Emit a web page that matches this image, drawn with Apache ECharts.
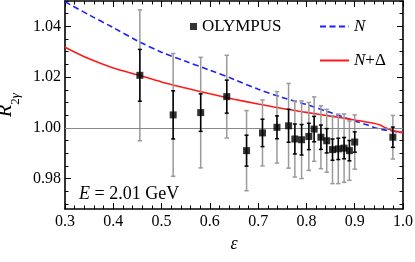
<!DOCTYPE html>
<html><head><meta charset="utf-8">
<script src="https://cdn.jsdelivr.net/npm/echarts@6/dist/echarts.min.js"></script>
<style>html,body{margin:0;padding:0;background:#fff}#c{width:415px;height:262px}</style>
</head><body><div id="c"></div>
<script>
// OLYMPUS data
const eps = [0.455,0.524,0.581,0.635,0.676,0.709,0.739,0.763,0.776,0.790,0.805,0.816,0.830,0.842,0.854,0.866,0.878,0.889,0.900,0.979];
const R2g = [1.0207,1.0051,1.0060,1.0123,0.9910,0.9980,1.0002,1.0008,0.9956,0.9953,0.9966,0.9995,0.9963,0.9949,0.9914,0.9917,0.9920,0.9910,0.9944,0.9963];
const statErr = [0.0102,0.0095,0.0074,0.0065,0.0061,0.0054,0.0045,0.0065,0.0059,0.0060,0.0052,0.0050,0.0048,0.0048,0.0042,0.0042,0.0042,0.0040,0.0040,0.0040];
const totErr = [0.0258,0.0242,0.0218,0.0163,0.0158,0.0130,0.0141,0.0167,0.0150,0.0153,0.0134,0.0127,0.0124,0.0124,0.0134,0.0137,0.0135,0.0117,0.0107,0.0086];
// theory curves
const curveEps = [0.30,0.35,0.40,0.45,0.50,0.55,0.60,0.65,0.70,0.75,0.80,0.85,0.90,0.925,0.95,0.965,0.98,1.00];
const curveN  = [1.0497,1.0445,1.0395,1.0343,1.0298,1.0262,1.0227,1.0191,1.0152,1.0120,1.0092,1.0060,1.0027,1.0012,0.9996,0.9991,0.9987,0.9981];
const curveND = [1.0318,1.0272,1.0236,1.0209,1.0181,1.0157,1.0134,1.0113,1.0094,1.0076,1.0061,1.0046,1.0031,1.0023,1.0013,0.9999,0.9988,0.9981];
// ticks
const xMajor = [0.3,0.4,0.5,0.6,0.7,0.8,0.9,1.0];
const xMinor = [0.32,0.34,0.36,0.38,0.42,0.44,0.46,0.48,0.52,0.54,0.56,0.58,0.62,0.64,0.66,0.68,0.72,0.74,0.76,0.78,0.82,0.84,0.86,0.88,0.92,0.94,0.96,0.98];
const yMajor = [0.98,1.00,1.02,1.04];
const yMinor = [0.97,0.975,0.985,0.99,0.995,1.005,1.01,1.015,1.025,1.03,1.035,1.045,1.05];
const xMin = 0.3, xMax = 1.0, yMin = 0.968, yMax = 1.05;

const FONT = 'Liberation Serif';
const chart = echarts.init(document.getElementById('c'), null, {renderer:'canvas'});

function xAx(pos, vals, len, line, labels){
  return {type:'value', min:xMin, max:xMax, position:pos,
    axisLine:{show:line, onZero:false, lineStyle:{color:'#000', width:1.6}},
    axisTick:{show:true, inside:true, length:len, customValues:vals, lineStyle:{color:'#000', width:1}},
    axisLabel:{show:labels, customValues:vals, margin:5, color:'#000', fontFamily:FONT, fontSize:16, formatter:v=>v.toFixed(1)},
    splitLine:{show:false}};
}
function yAx(pos, vals, len, line, labels){
  return {type:'value', min:yMin, max:yMax, position:pos,
    axisLine:{show:line, onZero:false, lineStyle:{color:'#000', width:1.6}},
    axisTick:{show:true, inside:true, length:len, customValues:vals, lineStyle:{color:'#000', width:1}},
    axisLabel:{show:labels, customValues:vals, margin:4, color:'#000', fontFamily:FONT, fontSize:16, formatter:v=>v.toFixed(2)},
    splitLine:{show:false}};
}
const xAxes = [xAx('bottom', xMajor, 6, true, true), xAx('bottom', xMinor, 3.5, false, false), xAx('top', xMajor, 6, true, false), xAx('top', xMinor, 3.5, false, false)];
Object.assign(xAxes[0], {name:'ε', nameLocation:'middle', nameGap:21, nameTextStyle:{fontFamily:FONT, fontStyle:'italic', fontSize:18, color:'#000'}});
const yAxes = [yAx('left', yMajor, 6, true, true), yAx('left', yMinor, 3.5, false, false), yAx('right', yMajor, 6, true, false), yAx('right', yMinor, 3.5, false, false)];
Object.assign(yAxes[0], {name:'{i|R}{s|2}{g|γ}', nameLocation:'middle', nameGap:40, nameRotate:90,
  nameTextStyle:{color:'#000', rich:{
    i:{fontFamily:FONT, fontStyle:'italic', fontSize:20, verticalAlign:'top', lineHeight:20},
    s:{fontFamily:FONT, fontSize:13, verticalAlign:'bottom', lineHeight:26},
    g:{fontFamily:FONT, fontStyle:'italic', fontSize:13, verticalAlign:'bottom', lineHeight:26}}}});

function errBars(errArr, color, capW, width, z){
  return {type:'custom', xAxisIndex:0, yAxisIndex:0, z:z, silent:true,
    data: eps.map((e,i)=>[e, R2g[i], errArr[i]]),
    renderItem:(params, api)=>{
      const x=api.value(0), y=api.value(1), e=api.value(2);
      const t=api.coord([x,y+e]), b=api.coord([x,y-e]);
      const st={stroke:color, lineWidth:width};
      return {type:'group', children:[
        {type:'line', shape:{x1:t[0],y1:t[1],x2:b[0],y2:b[1]}, style:st},
        {type:'line', shape:{x1:t[0]-capW,y1:t[1],x2:t[0]+capW,y2:t[1]}, style:st},
        {type:'line', shape:{x1:b[0]-capW,y1:b[1],x2:b[0]+capW,y2:b[1]}, style:st}]};
    }};
}

const legendText = {color:'#000', fontFamily:FONT, fontSize:17, rich:{
  i:{fontFamily:FONT, fontStyle:'italic', fontSize:17, color:'#000'},
  n:{fontFamily:FONT, fontSize:17, color:'#000'}}};
const legFmt = name => name==='N' ? '{i|N}' : (name==='N+Δ' ? '{i|N}{n|+Δ}' : name);

const option = {
  animation:false,
  backgroundColor:'#fff',
  grid:{left:65, right:12, top:1, bottom:53, containLabel:false, outerBoundsMode:'none'},
  xAxis: xAxes,
  yAxis: yAxes,
  legend:[
    {data:[{name:'OLYMPUS', icon:'rect'}], left:185, top:13, itemWidth:7, itemHeight:7, itemGap:10, textStyle:legendText, formatter:legFmt, selectedMode:false},
    {data:['N'], left:314, top:13, itemWidth:29, itemHeight:14, itemStyle:{opacity:0}, textStyle:legendText, formatter:legFmt, selectedMode:false},
    {data:['N+Δ'], left:314, top:47, itemWidth:29, itemHeight:14, itemStyle:{opacity:0}, textStyle:legendText, formatter:legFmt, selectedMode:false}
  ],
  graphic:[{type:'text', left:79, top:185, style:{text:'{i|E} = 2.01 GeV', fill:'#000', font:'18px "Liberation Serif"',
    rich:{i:{fontFamily:FONT, fontStyle:'italic', fontSize:18, fill:'#000'}}}}],
  series:[
    {name:'N', type:'line', xAxisIndex:0, yAxisIndex:0, data:curveEps.map((e,i)=>[e,curveN[i]]), smooth:0.3, symbol:'none', showSymbol:false, z:2,
      lineStyle:{color:'#1f1fff', width:1.6, type:[6,3.5]}, itemStyle:{color:'#1f1fff'},
      markLine:{silent:true, symbol:'none', label:{show:false}, data:[{yAxis:1.0}], lineStyle:{color:'#8a8a8a', width:1, type:'solid'}, animation:false}},
    {name:'N+Δ', type:'line', xAxisIndex:0, yAxisIndex:0, data:curveEps.map((e,i)=>[e,curveND[i]]), smooth:0.3, symbol:'none', showSymbol:false, z:3,
      lineStyle:{color:'#ff1a1a', width:1.6, type:'solid'}, itemStyle:{color:'#ff1a1a'}},
    errBars(totErr, '#9a9a9a', 2.2, 1.5, 4),
    errBars(statErr, '#000', 2, 1.5, 5),
    {name:'OLYMPUS', type:'scatter', xAxisIndex:0, yAxisIndex:0, data:eps.map((e,i)=>[e,R2g[i]]), symbol:'rect', symbolSize:7, z:6,
      itemStyle:{color:'#000'}}
  ]
};
chart.setOption(option);
</script></body></html>
